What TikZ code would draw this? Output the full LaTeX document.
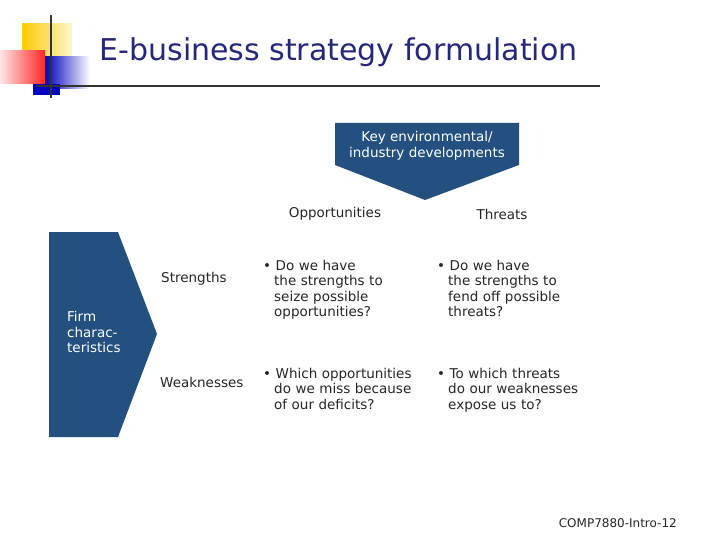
\documentclass[tikz,border=0pt]{standalone}
\usepackage{fontspec}
\setmainfont{DejaVu Sans}
\usetikzlibrary{positioning}
\definecolor{navy}{HTML}{23507F}
\definecolor{titleblue}{HTML}{26267A}
\definecolor{gold}{HTML}{FFCC00}
\tikzset{
  label/.style={font=\fontsize{13.5}{15.5}\selectfont, align=left, inner sep=0pt, text=black!85},
  bullet/.style={label, text width=160pt},
  banner/.style={fill=navy, draw=none}
}
\begin{document}
\begin{tikzpicture}[x=1pt, y=-1pt]
\useasboundingbox (0,0) rectangle (720,540);
% logo
\shade[left color=gold, right color=gold!20] (22,24) rectangle (72,56);
\shade[left color=red!10, right color=red!85] (0,51) rectangle (45,84);
\shade[left color=blue!75!black, right color=white] (45,57) rectangle (90,89);
\fill[blue!75!black] (33,84) rectangle (60,95);
\draw[line width=1.2pt, black!80] (51,15) -- (51,98);
\draw[line width=1.2pt, black!80] (36,86) -- (600,86);
\node (title) [anchor=west, text=titleblue, font=\fontsize{30}{30}\selectfont] at (96,52) {E-business strategy formulation};
% shapes
\fill[banner] (335,123) -- (519,123) -- (519,165) -- (425,200) -- (335,165) -- cycle;
\node (key) [label, text=white, align=center] at (427,146) {Key environmental/\\industry developments};
\fill[banner] (49,232) -- (118,232) -- (157,334) -- (118,437) -- (49,437) -- cycle;
\node (firm) [label, text=white, anchor=west] at (67,332) {Firm\\charac-\\teristics};
% headings
\node (opp) [label] at (335,214) {Opportunities};
\node (thr) [label] at (502,214) {Threats};
\node (str) [label, anchor=west] at (161,279) {Strengths};
\node (weak) [label, anchor=west] at (160,382) {Weaknesses};
% cells
\node (so) [bullet, anchor=north west] at (263,260) {\textbullet\ Do we have\\\hspace*{11pt}the strengths to\\\hspace*{11pt}seize possible\\\hspace*{11pt}opportunities?};
\node (st) [bullet, anchor=north west] at (437,260) {\textbullet\ Do we have\\\hspace*{11pt}the strengths to\\\hspace*{11pt}fend off possible\\\hspace*{11pt}threats?};
\node (wo) [bullet, anchor=north west] at (263,368) {\textbullet\ Which opportunities\\\hspace*{11pt}do we miss because\\\hspace*{11pt}of our deficits?};
\node (wt) [bullet, anchor=north west] at (437,368) {\textbullet\ To which threats\\\hspace*{11pt}do our weaknesses\\\hspace*{11pt}expose us to?};
\node (foot) [label, font=\fontsize{12}{12}\selectfont, anchor=east] at (677,523) {COMP7880-Intro-12};
\end{tikzpicture}
\end{document}
